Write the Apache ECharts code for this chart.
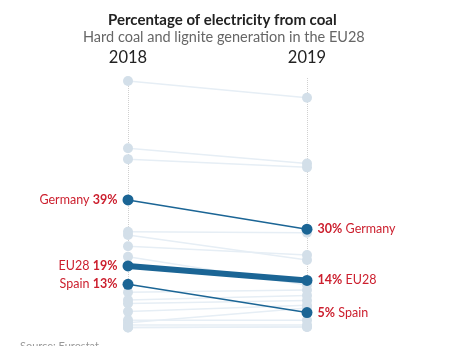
<!DOCTYPE html>
<html>
<head>
<meta charset="utf-8">
<script src="https://cdn.jsdelivr.net/npm/echarts@6/dist/echarts.min.js"></script>
<style>
html,body{margin:0;padding:0;background:#fff;}
#chart{width:449px;height:346px;}
</style>
</head>
<body>
<div id="chart"></div>
<script>
const years = ['2018', '2019'];
const titleText = 'Percentage of electricity from coal';
const subtitleText = 'Hard coal and lignite generation in the EU28';
const sourceText = 'Source: Eurostat';

// highlighted series: [2018, 2019]
const highlightNames = ['Germany', 'EU28', 'Spain'];
const germany = [38.9, 30.0];
const eu28 = [18.8, 14.4];
const spain = [13.2, 4.6];

// other EU countries (unlabelled): 2018 and 2019 values
const others2018 = [75.1, 54.6, 51.3, 29.2, 28.2, 24.8, 21.6, 10.8, 8.4, 7.4, 4.9, 1.5, 2.3, 0.8, 0.1, 0.1];
const others2019 = [70.0, 50.0, 48.8, 28.9, 20.6, 22.1, 13.0, 11.5, 9.8, 8.3, 6.8, 6.0, 2.3, 0.8, 0.2, 0.2];

const RED = '#cc1f2e';
const DARK = '#1b6595';
const LIGHT_DOT = '#d3dfe9';
const LIGHT_LINE = '#e6eef5';

const series = [];
others2018.forEach((v, i) => {
  series.push({
    type: 'line', silent: true, symbol: 'circle', symbolSize: 10,
    data: [v, others2019[i]],
    itemStyle: { color: LIGHT_DOT },
    lineStyle: { color: LIGHT_LINE, width: 1.5 },
    z: 2
  });
});

function hl(name, vals, width) {
  const rich = {
    n: { color: RED, fontSize: 12.5, fontFamily: 'Lato' },
    b: { color: RED, fontSize: 12.5, fontWeight: 'bold', fontFamily: 'Lato' }
  };
  return {
    type: 'line', silent: true, symbol: 'circle', symbolSize: 11,
    itemStyle: { color: DARK },
    lineStyle: { color: DARK, width: width },
    z: 5,
    data: [
      { value: vals[0], label: { show: true, position: 'left', distance: 5,
        formatter: '{n|' + name + '} {b|' + Math.round(vals[0]) + '%}', rich: rich } },
      { value: vals[1], label: { show: true, position: 'right', distance: 5,
        formatter: '{b|' + Math.round(vals[1]) + '%} {n|' + name + '}', rich: rich } }
    ]
  };
}
series.push(hl(highlightNames[0], germany, 1.5));
series.push(hl(highlightNames[2], spain, 1.5));
series.push(hl(highlightNames[1], eu28, 6));

const chart = echarts.init(document.getElementById('chart'));
chart.setOption({
  animation: false,
  backgroundColor: '#fff',
  title: [
    { text: titleText, left: 103, top: 8,
      textStyle: { fontFamily: 'Lato', fontSize: 15, fontWeight: 'bold', color: '#222' } },
    { text: subtitleText, left: 78, top: 25,
      textStyle: { fontFamily: 'Lato', fontSize: 14.5, fontWeight: 'normal', color: '#666' } },
    { text: sourceText, left: 15, top: 336,
      textStyle: { fontFamily: 'Lato', fontSize: 11, fontWeight: 'normal', color: '#999' } }
  ],
  grid: { left: 128, right: 142, top: 78, bottom: 15 },
  xAxis: {
    type: 'category', data: years, position: 'top', boundaryGap: false,
    axisLine: { show: false }, axisTick: { show: false },
    axisLabel: { fontFamily: 'Lato', fontSize: 16.5, color: '#222', margin: 12 },
    splitLine: { show: true, lineStyle: { type: 'dotted', color: '#d0d0d0', width: 1 } }
  },
  yAxis: { type: 'value', min: -1, max: 76, show: false },
  series: series
});
</script>
</body>
</html>
